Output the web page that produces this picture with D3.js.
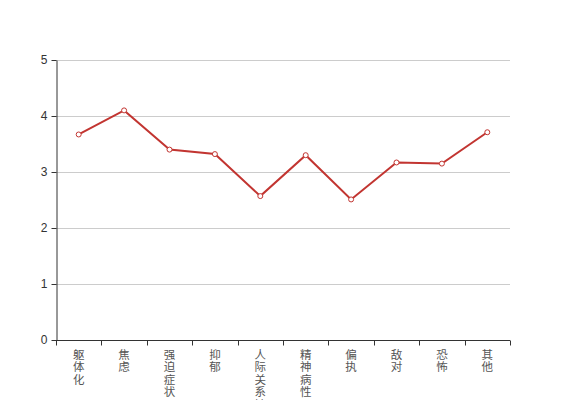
<!DOCTYPE html>
<html><head><meta charset="utf-8">
<script src="https://cdn.jsdelivr.net/npm/d3@7"></script>
<style>body{margin:0;background:#fff}svg{display:block}</style>
</head><body>
<svg id="c" width="567" height="400"></svg>
<script>
const categories = ["躯体化","焦虑","强迫症状","抑郁","人际关系敏感","精神病性","偏执","敌对","恐怖","其他"];
const values = [3.67,4.10,3.40,3.32,2.57,3.30,2.51,3.17,3.15,3.71];
const yTicks = [0,1,2,3,4,5];

const svg = d3.select("#c");
const m = {l:56, r:57, t:60, b:60};
const W = 567, H = 400;
const x = d3.scaleBand().domain(categories).range([m.l, W - m.r]);
const y = d3.scaleLinear().domain([0,5]).range([H - m.b, m.t]);

// grid
svg.append("g").selectAll("line").data(yTicks.filter(d=>d>0)).join("line")
  .attr("x1", m.l).attr("x2", W - m.r)
  .attr("y1", d=>y(d)+0.5).attr("y2", d=>y(d)+0.5)
  .attr("stroke", "#ccc").attr("stroke-width",1);

// y axis
const ya = svg.append("g").attr("transform", `translate(${m.l+0.5},0)`)
  .call(d3.axisLeft(y).tickValues(yTicks).tickFormat(d3.format("d")).tickSize(5).tickSizeOuter(0).tickPadding(4));
ya.selectAll("text").attr("font-family","'Liberation Sans', Arial, sans-serif").attr("font-size",12).attr("fill","#333");
ya.select(".domain").attr("stroke","#333");
ya.selectAll(".tick line").attr("stroke","#333");

// x axis
const xa = svg.append("g").attr("transform", `translate(0,${H - m.b+0.5})`);
xa.append("line").attr("x1", m.l).attr("x2", W - m.r).attr("stroke","#333");
const bounds = categories.map(c=>x(c)).concat([W - m.r]);
xa.selectAll("line.tk").data(bounds).join("line").attr("class","tk")
  .attr("x1",d=>Math.round(d)+0.5).attr("x2",d=>Math.round(d)+0.5)
  .attr("y1",0).attr("y2",5).attr("stroke","#333");
const chars = [];
categories.forEach(c=>Array.from(c).forEach((ch,i)=>chars.push({c, ch, i})));
xa.selectAll("text").data(chars).join("text")
  .attr("x", d=>x(d.c)+x.bandwidth()/2)
  .attr("y", d=>18 + d.i*12.5)
  .attr("text-anchor","middle")
  .attr("font-family","'Noto Sans CJK SC', sans-serif")
  .attr("font-size",11.5).attr("fill","#555")
  .text(d=>d.ch);

// line
const pts = categories.map((c,i)=>({c, v: values[i]}));
svg.append("path").datum(pts)
  .attr("d", d3.line().x(d=>x(d.c)+x.bandwidth()/2).y(d=>y(d.v)))
  .attr("fill","none").attr("stroke","#c23531").attr("stroke-width",2);
svg.append("g").selectAll("circle").data(pts).join("circle")
  .attr("cx", d=>x(d.c)+x.bandwidth()/2).attr("cy", d=>y(d.v))
  .attr("r",2.5).attr("fill","#fff").attr("stroke","#c23531").attr("stroke-width",1);
</script>
</body></html>
